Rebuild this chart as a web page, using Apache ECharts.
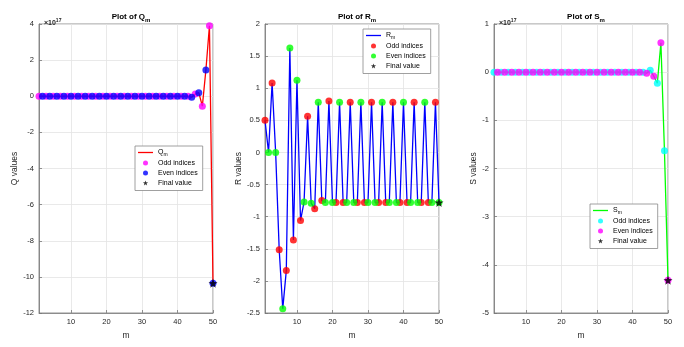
<!DOCTYPE html>
<html>
<head>
<meta charset="utf-8">
<script src="https://cdn.jsdelivr.net/npm/echarts@6/dist/echarts.min.js"></script>
<style>
  html, body {margin:0; padding:0; background:#fff;}
  #main {width:684px; height:347px;}
</style>
</head>
<body>
<div id="main"></div>
<script>
// index m
const mValues = [1,2,3,4,5,6,7,8,9,10,11,12,13,14,15,16,17,18,19,20,21,22,23,24,25,
                 26,27,28,29,30,31,32,33,34,35,36,37,38,39,40,41,42,43,44,45,46,47,48,49,50];
const xTickValues = [10, 20, 30, 40, 50];

// Q_m, in units of 1e17
const qValues = [0,0,0,0,0,0,0,0,0,0, 0,0,0,0,0,0,0,0,0,0, 0,0,0,0,0,0,0,0,0,0,
                 0,0,0,0,0,0,0,0,0,0, 0,0,0,-0.05,0.12,0.2,-0.55,1.45,3.9,-10.35];

// R_m
const rValues = [0.5,0,1.08,0,-1.515,-2.435,-1.84,1.625,-1.365,1.125,
                 -1.06,-0.77,0.565,-0.79,-0.875,0.78,-0.75,-0.78,0.8,-0.78,
                 -0.78,0.78,-0.78,-0.78,0.78,-0.78,-0.78,0.78,-0.78,-0.78,
                 0.78,-0.78,-0.78,0.78,-0.78,-0.78,0.78,-0.78,-0.78,0.78,
                 -0.78,-0.78,0.78,-0.78,-0.78,0.78,-0.78,-0.78,0.78,-0.78];

// S_m, in units of 1e17
const sValues = [0,0,0,0,0,0,0,0,0,0, 0,0,0,0,0,0,0,0,0,0, 0,0,0,0,0,0,0,0,0,0,
                 0,0,0,0,0,0,0,0,0,0, 0,0,0,-0.02,0.04,-0.085,-0.23,0.61,-1.63,-4.32];

const starPath = 'path://M0,-10L2.35,-3.24L9.51,-3.09L3.8,1.24L5.88,8.09L0,4L-5.88,8.09L-3.8,1.24L-9.51,-3.09L-2.35,-3.24Z';
const linePath = 'path://M0,0H30V2.6H0Z';
const txt = '#262626';
const font = 'Liberation Sans';

const panels = [
  {key: 'Q', vals: qValues, yMin: -12, yMax: 4, yInt: 2, exp: true,
   line: '#ff0000', odd: '#ff00ff', even: '#0000ff',
   left: 39, nameGap: 20, legend: {left: 135, top: 146}},
  {key: 'R', vals: rValues, yMin: -2.5, yMax: 2, yInt: 0.5, exp: false,
   line: '#0000ff', odd: '#ff0000', even: '#00ff00',
   left: 265, nameGap: 20, legend: {left: 363, top: 29}},
  {key: 'S', vals: sValues, yMin: -5, yMax: 1, yInt: 1, exp: true,
   line: '#00ff00', odd: '#00ffff', even: '#ff00ff',
   left: 494, nameGap: 15, legend: {left: 590, top: 204}}
];

const W = 174, H = 289, TOP = 24;

const chart = echarts.init(document.getElementById('main'));

const grid = [], xAxis = [], yAxis = [], series = [], title = [], legend = [];

panels.forEach((p, i) => {
  grid.push({left: p.left, top: TOP, width: W, height: H, show: true,
             borderColor: '#777', borderWidth: 0.8, backgroundColor: '#fff'});
  xAxis.push({
    type: 'value', gridIndex: i, min: 1, max: 50,
    name: 'm', nameLocation: 'middle', nameGap: 15,
    nameTextStyle: {color: txt, fontSize: 8.5, fontFamily: font},
    axisLine: {show: true, onZero: false, lineStyle: {color: '#777', width: 0.8}},
    axisTick: {show: true, inside: true, length: 3, customValues: xTickValues,
               lineStyle: {color: '#777', width: 0.8}},
    axisLabel: {customValues: xTickValues, color: txt, fontSize: 7.5, fontFamily: font, margin: 5},
    splitLine: {show: true, lineStyle: {color: '#e3e3e3', width: 0.8}}
  });
  yAxis.push({
    type: 'value', gridIndex: i, min: p.yMin, max: p.yMax, interval: p.yInt,
    name: p.key + ' values', nameLocation: 'middle', nameGap: p.nameGap,
    nameTextStyle: {color: txt, fontSize: 8.5, fontFamily: font},
    axisLine: {show: true, onZero: false, lineStyle: {color: '#777', width: 0.8}},
    axisTick: {show: true, inside: true, length: 3, lineStyle: {color: '#777', width: 0.8}},
    axisLabel: {color: txt, fontSize: 7.5, fontFamily: font, margin: 5},
    splitLine: {show: true, lineStyle: {color: '#e3e3e3', width: 0.8}}
  });

  const pts = p.vals.map((v, k) => [mValues[k], v]);
  const odd = pts.filter(d => d[0] % 2 === 1);
  const even = pts.filter(d => d[0] % 2 === 0);
  const last = [pts[pts.length - 1]];

  series.push({
    name: p.key + '_line', type: 'line', xAxisIndex: i, yAxisIndex: i,
    data: pts, symbol: 'none', lineStyle: {color: p.line, width: 1.3},
    itemStyle: {color: p.line}, z: 2
  });
  series.push({
    name: p.key + '_odd', type: 'scatter', xAxisIndex: i, yAxisIndex: i,
    data: odd, symbol: 'circle', symbolSize: 7, itemStyle: {color: p.odd}, z: 3
  });
  series.push({
    name: p.key + '_even', type: 'scatter', xAxisIndex: i, yAxisIndex: i,
    data: even, symbol: 'circle', symbolSize: 7, itemStyle: {color: p.even}, z: 4
  });
  series.push({
    name: p.key + '_final', type: 'scatter', xAxisIndex: i, yAxisIndex: i,
    data: last, symbol: starPath, symbolSize: 9, itemStyle: {color: '#000'}, z: 5
  });

  title.push({
    text: '{a|Plot of ' + p.key + '}{s|m}',
    left: p.left + W / 2, top: 6, textAlign: 'center',
    textStyle: {rich: {
      a: {fontSize: 8, fontWeight: 'bold', color: '#000', fontFamily: font},
      s: {fontSize: 6, fontWeight: 'bold', color: '#000', fontFamily: font, padding: [6, 0, 0, 0]}
    }}
  });
  if (p.exp) {
    title.push({
      text: '{a|×10}{s|17}',
      left: p.left, top: 13,
      textStyle: {rich: {
        a: {fontSize: 7, color: txt, fontFamily: font},
        s: {fontSize: 5, color: txt, fontFamily: font, padding: [0, 0, 6, 0]}
      }}
    });
  }

  const key = p.key;
  legend.push({
    orient: 'vertical', left: p.legend.left, top: p.legend.top,
    padding: [2, 5, 3, 3], itemGap: 1, itemWidth: 15, itemHeight: 5,
    borderColor: '#888', borderWidth: 0.8, backgroundColor: '#fff',
    selectedMode: false,
    data: [{name: key + '_line', icon: linePath}, key + '_odd', key + '_even', key + '_final'],
    textStyle: {fontSize: 7, lineHeight: 9, color: '#000', fontFamily: font,
      rich: {
        n: {fontSize: 7, color: '#000', fontFamily: font},
        s: {fontSize: 5, color: '#000', fontFamily: font, padding: [5, 0, 0, 0]}
      }},
    formatter: function (name) {
      if (name === key + '_line') return '{n|' + key + '}{s|m}';
      if (name === key + '_odd') return 'Odd indices';
      if (name === key + '_even') return 'Even indices';
      return 'Final value';
    }
  });
});

chart.setOption({
  animation: false,
  backgroundColor: '#fff',
  title: title,
  legend: legend,
  grid: grid,
  xAxis: xAxis,
  yAxis: yAxis,
  series: series
});
</script>
</body>
</html>
